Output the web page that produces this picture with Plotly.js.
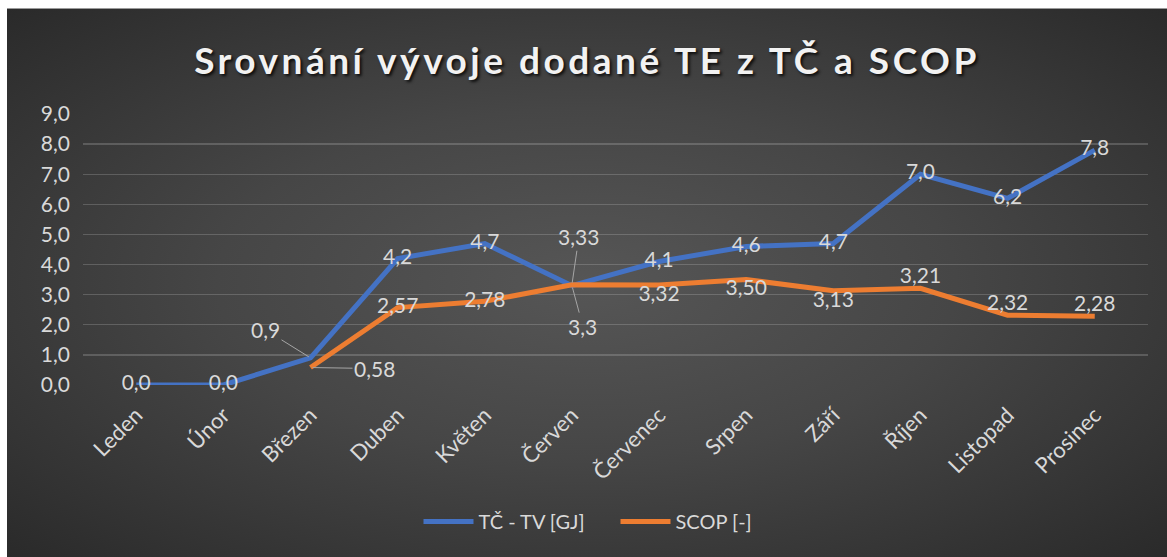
<!DOCTYPE html>
<html>
<head>
<meta charset="utf-8">
<script src="https://cdn.plot.ly/plotly-3.0.1.min.js"></script>
<style>
  html, body { margin: 0; padding: 0; background: #ffffff; }
  #wrap {
    position: absolute; left: 7px; top: 8px; width: 1160px; height: 549px;
    background: radial-gradient(ellipse at 50% 50%, #565656 0%, #464646 45%, #2a2a2a 100%);
    border-top: 1px solid #9a9a9a; box-sizing: border-box;
  }
  #chart { width: 1160px; height: 548px; }
  .gtitle { letter-spacing: 3.5px; }
</style>
</head>
<body>
<div id="wrap"><div id="chart"></div></div>
<script>
const months = ["Leden","Únor","Březen","Duben","Květen","Červen","Červenec","Srpen","Září","Říjen","Listopad","Prosinec"];
const tcValues = [0.0, 0.0, 0.9, 4.2, 4.7, 3.3, 4.1, 4.6, 4.7, 7.0, 6.2, 7.8];
const scopValues = [null, null, 0.58, 2.57, 2.78, 3.33, 3.32, 3.50, 3.13, 3.21, 2.32, 2.28];
const seriesNames = ["TČ - TV [GJ]", "SCOP [-]"];

const fmt = (v, d) => v === null ? "" : v.toFixed(d).replace(".", ",");

// label placements (indices with leader lines handled by annotations)
const tcPos = ["middle center","middle center","none","middle center","middle center","none","middle center","middle center","middle center","middle center","middle center","middle center"];
const scopPos = ["none","none","none","middle center","middle center","none","bottom center","bottom center","bottom center","top center","top center","top center"];

const tcText = tcValues.map((v,i) => tcPos[i] === "none" ? "" : fmt(v,1));
const scopText = scopValues.map((v,i) => scopPos[i] === "none" ? "" : fmt(v,2));

const FONT = "Lato, 'Open Sans', sans-serif";
const labelFont = {family: FONT, size: 21, color: "#d9d9d9"};

const traces = [
  {
    x: months, y: tcValues, name: seriesNames[0], type: "scatter", mode: "lines+text",
    line: {color: "#4472C4", width: 5},
    text: tcText, textposition: tcPos.map(p => p === "none" ? "middle center" : p),
    textfont: labelFont, hoverinfo: "skip", cliponaxis: false
  },
  {
    x: months, y: scopValues, name: seriesNames[1], type: "scatter", mode: "lines+text",
    line: {color: "#ED7D31", width: 5},
    text: scopText, textposition: scopPos.map(p => p === "none" ? "middle center" : p),
    textfont: labelFont, hoverinfo: "skip", cliponaxis: false
  }
];

const leader = (x, y, text, ax, ay) => ({
  x: x, y: y, xref: "x", yref: "y", text: text, showarrow: true,
  arrowhead: 0, arrowwidth: 1, arrowcolor: "#a6a6a6", standoff: 2, startstandoff: 0,
  ax: ax, ay: ay, font: labelFont
});

const annotations = [
  leader(months[2], tcValues[2], fmt(tcValues[2],1), -45, -28),
  leader(months[2], scopValues[2], fmt(scopValues[2],2), 64, 1),
  leader(months[5], scopValues[5], fmt(scopValues[5],2), 7, -48),
  leader(months[5], tcValues[5], fmt(tcValues[5],1), 11, 41)
];

const layout = {
  width: 1160, height: 548,
  paper_bgcolor: "rgba(0,0,0,0)", plot_bgcolor: "rgba(0,0,0,0)",
  separators: ", ",
  margin: {l: 76, r: 19, t: 105, b: 172},
  title: {
    text: "Srovnání vývoje dodané TE z TČ a SCOP",
    font: {family: FONT, size: 37, weight: "bold", color: "#f2f2f2", shadow: "2px 2px 3px rgba(0,0,0,0.8)"},
    x: 0.5, xanchor: "center", y: 0.905, yanchor: "middle"
  },
  xaxis: {
    type: "category", tickangle: -45, showgrid: false, zeroline: false, showline: false,
    ticks: "", ticklabelstandoff: 12, tickfont: {family: FONT, size: 22, color: "#d9d9d9"},
    fixedrange: true
  },
  yaxis: {
    range: [0, 9], dtick: 1, tickformat: ".1f", showgrid: true,
    gridcolor: "rgba(217,217,217,0.22)", gridwidth: 1.3, zeroline: false, showline: false,
    ticks: "", ticklabelstandoff: 12,
    tickfont: {family: FONT, size: 21, color: "#d9d9d9"},
    fixedrange: true
  },
  showlegend: true,
  legend: {
    orientation: "h", x: 0.5, xanchor: "center", yref: "container", y: 0.065, yanchor: "middle",
    font: {family: FONT, size: 20, color: "#d9d9d9"},
    bgcolor: "rgba(0,0,0,0)", itemwidth: 50, tracegroupgap: 0, entrywidth: 132
  },
  annotations: annotations
};

Plotly.newPlot("chart", traces, layout, {displayModeBar: false, staticPlot: true});
</script>
</body>
</html>
